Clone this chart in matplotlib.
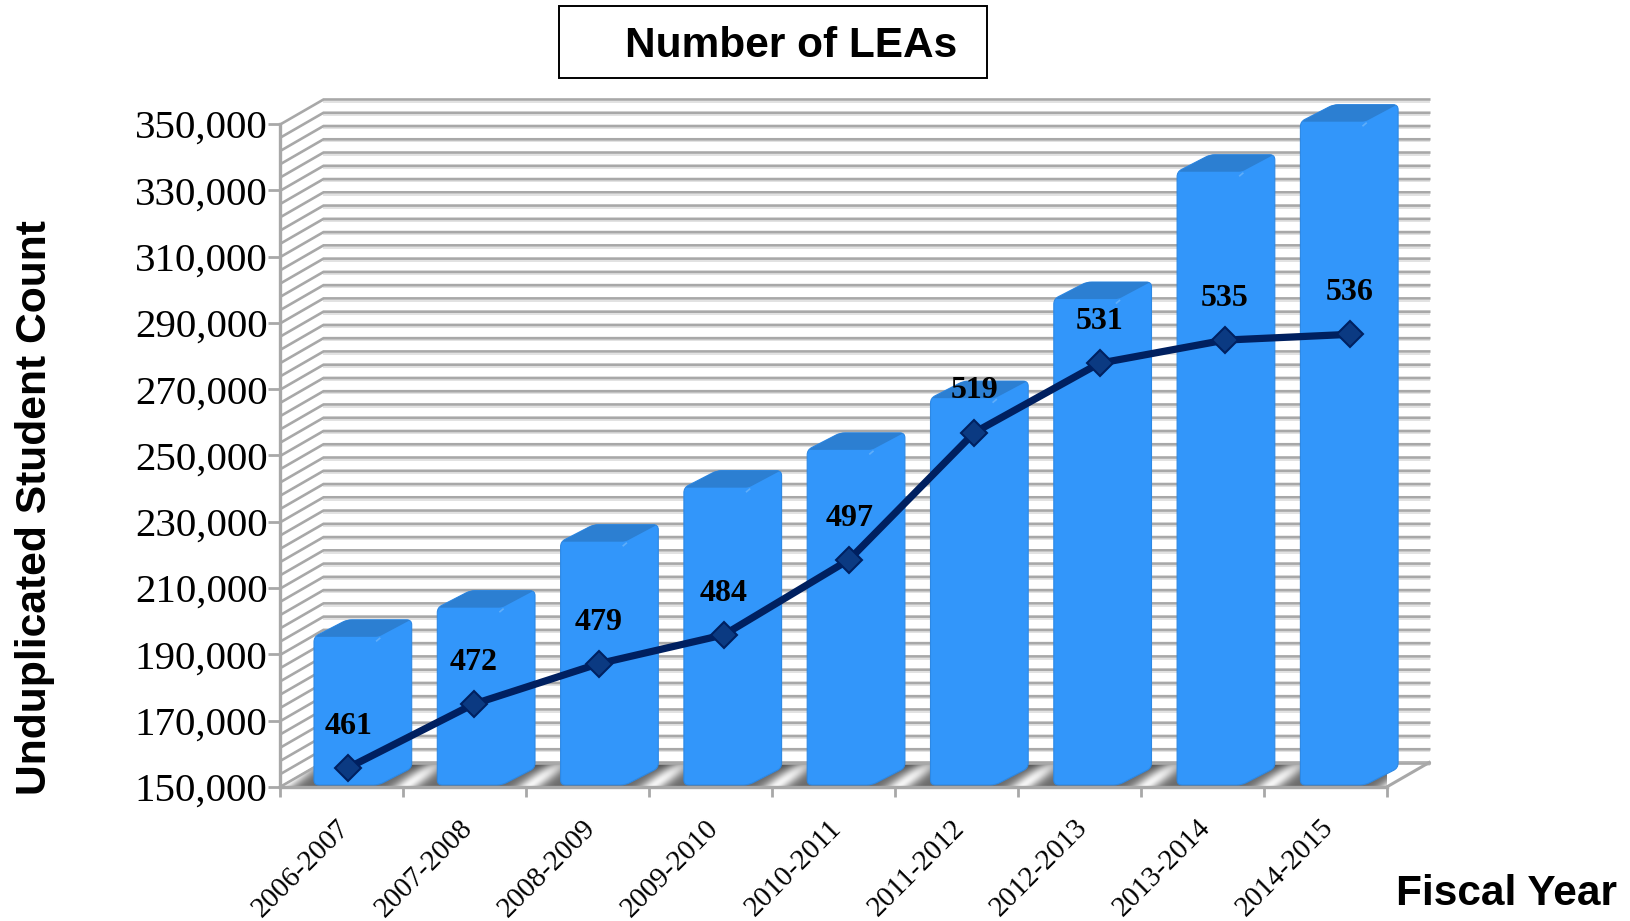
import numpy as np
import matplotlib
matplotlib.use("Agg")
import matplotlib.pyplot as plt
from matplotlib.patches import PathPatch, Polygon, Rectangle
from matplotlib.path import Path
from matplotlib.transforms import IdentityTransform

# ---- data -------------------------------------------------------------
fiscal_years = ["2006-2007", "2007-2008", "2008-2009", "2009-2010", "2010-2011",
                "2011-2012", "2012-2013", "2013-2014", "2014-2015"]
student_counts = [195300, 204100, 224000, 240300, 251700, 267300, 297200, 335600, 350700]
lea_counts = [461, 472, 479, 484, 497, 519, 531, 535, 536]
y_ticks = [150000, 170000, 190000, 210000, 230000, 250000, 270000, 290000, 310000, 330000, 350000]

W, H = 1630, 921
GRID = "#A8A8A8"
BAR = "#3296FA"
BAR_TOP = "#2C7FD2"

fig = plt.figure(figsize=(W / 100, H / 100), dpi=100)
L, R, T, B = 280, 1386.7, 124, 787
ax = fig.add_axes([L / W, 1 - B / H, (R - L) / W, (B - T) / H], zorder=1)
ax.set_xlim(0, 9)
ax.set_ylim(150000, 350000)
ax.patch.set_visible(False)
for s in ("top", "right"):
    ax.spines[s].set_visible(False)
for s in ("left", "bottom"):
    ax.spines[s].set_color(GRID)
    ax.spines[s].set_linewidth(2.4)

# tick marks and labels
ax.set_yticks(y_ticks)
ax.set_yticklabels([f"{v:,}" for v in y_ticks], family="Liberation Serif", fontsize=29.5)
ax.tick_params(axis="y", length=8.5, width=2, color=GRID, pad=0.5)
ax.set_xticks(np.arange(0, 10))
ax.set_xticklabels([])
ax.tick_params(axis="x", which="major", length=7.5, width=2, color=GRID)
ax.set_xticks(np.arange(9) + 0.46, minor=True)
ax.set_xticklabels(fiscal_years, minor=True, rotation=45, ha="right", va="top",
                   rotation_mode="anchor", family="Liberation Serif", fontsize=20.8)
ax.tick_params(axis="x", which="minor", length=0, pad=20)

# 3D frame -- drawn in pixel offsets from the axes scale
DX, DY = 42.5, 24.5
tr = IdentityTransform()


def pt(x, y):
    return ax.transData.transform((x, y))


def line(xs, ys, color, lw, z):
    ax.add_line(plt.Line2D(xs, ys, transform=tr, color=color, lw=lw, zorder=z, clip_on=False,
                           solid_joinstyle="miter"))


grid_vals = np.arange(150000, 350001, 4000)
for v in grid_vals:
    x0, y0 = pt(0, v)
    x1, _ = pt(9, v)
    line([x0 + DX + 1, x1 + DX], [y0 + DY - 2.2] * 2, "#E2E2E2", 1.4, 0.5)
    line([x0 + 1, x0 + DX + 1, x1 + DX], [y0, y0 + DY, y0 + DY], GRID, 1.9, 0.6)

# floor with a diagonal, repeating grey-white-grey sheen
x0, y0 = pt(0, 150000)
x1, _ = pt(9, 150000)
floor = Polygon([[x0, y0], [x0 + DX, y0 + DY], [x1 + DX, y0 + DY], [x1, y0]],
                closed=True, transform=tr, fc="white", ec="none", zorder=0.7, clip_on=False)
ax.add_patch(floor)
gx = np.arange(x0, x1 + DX + 1, 1.0)
gy = np.arange(y0, y0 + DY + 1, 1.0)
XX, YY = np.meshgrid(gx, gy)
PERIOD, PHASE, SKEW = 123.3, x0 + 125, 1.3
tt = ((XX - SKEW * (YY - y0) - PHASE + PERIOD / 2) % PERIOD) - PERIOD / 2
sheen = 0.42 + 0.54 * np.exp(-(tt / 13.0) ** 2)
sheen *= 1 - 0.35 * ((YY - y0) / DY) ** 3
im = ax.imshow(sheen, cmap="gray", vmin=0, vmax=1, aspect="auto", interpolation="bilinear",
               origin="lower", extent=(gx[0], gx[-1], gy[0], gy[-1]), transform=tr, zorder=0.8)
im.set_clip_path(floor.get_path(), transform=floor.get_patch_transform() + tr)
im.set_clip_on(True)
ax.set_xlim(0, 9)
ax.set_ylim(150000, 350000)
ax.set_aspect("auto")
line([x0 + DX, x1 + DX], [y0 + DY] * 2, GRID, 1.9, 0.9)
line([x0, x0 + DX], [y0, y0 + DY], GRID, 1.9, 0.9)
line([x1, x1 + DX], [y0, y0 + DY], GRID, 2.2, 0.9)

# bars
BAR_STEP, FACE_OFF, FACE_W, BD, BH = 123.3, 34, 64.7, 33, 17


def rounded(points, r=4.0):
    verts, codes = [], []
    n = len(points)
    for j in range(n):
        p = np.array(points[j], float)
        a = np.array(points[j - 1], float)
        b = np.array(points[(j + 1) % n], float)
        pa = p + (a - p) / np.linalg.norm(a - p) * r
        pb = p + (b - p) / np.linalg.norm(b - p) * r
        verts += [pa, p, pb]
        codes += [Path.MOVETO if j == 0 else Path.LINETO, Path.CURVE3, Path.CURVE3]
    verts.append(verts[0])
    codes.append(Path.CLOSEPOLY)
    return Path(verts, codes)


for i, v in enumerate(student_counts):
    _, ytop = pt(i, v)
    fx = x0 + FACE_OFF + i * BAR_STEP
    base = y0 + 2
    sil = [[fx, base], [fx + FACE_W, base], [fx + FACE_W + BD, base + BH],
           [fx + FACE_W + BD, ytop + BH], [fx + BD, ytop + BH], [fx, ytop]]
    ax.add_patch(PathPatch(rounded(sil, 5), transform=tr, fc=BAR, ec="#2D88E4", lw=0.8,
                           zorder=2, clip_on=False))
    top = [[fx + 1, ytop], [fx + BD, ytop + BH], [fx + FACE_W + BD - 1, ytop + BH],
           [fx + FACE_W, ytop]]
    ax.add_patch(PathPatch(rounded(top, 3), transform=tr, fc=BAR_TOP, ec="none", zorder=2.1,
                           clip_on=False))
    line([fx + FACE_W - 2, fx + FACE_W + 1], [ytop - 4, ytop - 1.5], "#5FAEFA", 1.2, 2.2)

# line on its own scale (secondary axes)
lx0, lx1 = 348.3 - 62.6, 1350 + 62.6
ax2 = fig.add_axes([lx0 / W, 1 - B / H, (lx1 - lx0) / W, (B - T) / H], zorder=2)
ax2.set_xlim(0, 9)
ax2.set_ylim(457.66, 572.4)
ax2.axis("off")
xs = np.arange(9) + 0.5
ax2.plot(xs, lea_counts, color="#002060", lw=5.2, marker="D", ms=13.5, mfc="#0B3A82",
         mec="#002060", mew=1.5, zorder=3, clip_on=False)
for x, n in zip(xs, lea_counts):
    ax2.annotate(str(n), (x, n), xytext=(0, 30), textcoords="offset points", ha="center",
                 va="center", family="Liberation Serif", fontweight="bold", fontsize=23,
                 color="black", zorder=4)

# outer texts
fig.text(35 / W, 1 - 507.5 / H, "Unduplicated Student Count", rotation=90, ha="center", va="center",
         family="Liberation Sans", fontweight="bold", fontsize=30.7)
fig.text(1506 / W, 1 - 905 / H, "Fiscal Year", ha="center", va="baseline",
         family="Liberation Sans", fontweight="bold", fontsize=30.5)
fig.add_artist(Rectangle((558.5 / W, 1 - 78.3 / H), 429 / W, 72.6 / H, transform=fig.transFigure,
                         fc="white", ec="black", lw=1.4))
fig.text(791 / W, 1 - 57 / H, "Number of LEAs", ha="center", va="baseline",
         family="Liberation Sans", fontweight="bold", fontsize=30.5)

fig.savefig("out.png", dpi=100)
